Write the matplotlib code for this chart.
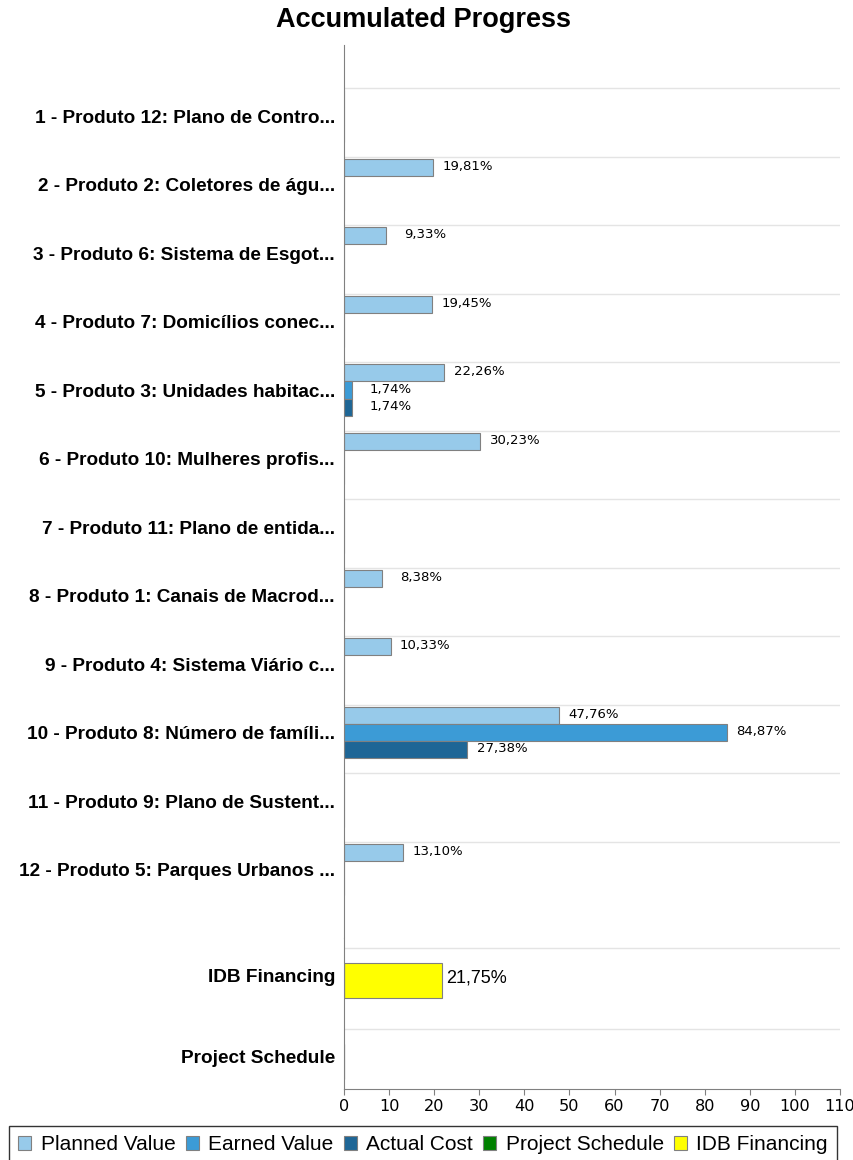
import numpy as np
import matplotlib
matplotlib.use("Agg")
import matplotlib.pyplot as plt
from matplotlib.patches import Patch

products = ["1 - Produto 12: Plano de Contro...",
            "2 - Produto 2: Coletores de águ...",
            "3 - Produto 6: Sistema de Esgot...",
            "4 - Produto 7: Domicílios conec...",
            "5 - Produto 3: Unidades habitac...",
            "6 - Produto 10: Mulheres profis...",
            "7 - Produto 11: Plano de entida...",
            "8 - Produto 1: Canais de Macrod...",
            "9 - Produto 4: Sistema Viário c...",
            "10 - Produto 8: Número de famíli...",
            "11 - Produto 9: Plano de Sustent...",
            "12 - Produto 5: Parques Urbanos ..."]
planned = [np.nan, 19.81, 9.33, 19.45, 22.26, 30.23, np.nan, 8.38, 10.33, 47.76, np.nan, 13.10]
earned = [np.nan, np.nan, np.nan, np.nan, 1.74, np.nan, np.nan, np.nan, np.nan, 84.87, np.nan, np.nan]
actual = [np.nan, np.nan, np.nan, np.nan, 1.74, np.nan, np.nan, np.nan, np.nan, 27.38, np.nan, np.nan]

summary = ["IDB Financing", "Project Schedule"]
idb = [21.75, np.nan]
schedule = [np.nan, np.nan]

c_planned = "#97caea"
c_earned = "#3c9bd6"
c_actual = "#1e6696"
c_sched = "#008000"
c_idb = "#ffff00"
edge = "#808080"
grid_c = "#e4e4e4"

W, H = 854, 1160
fig = plt.figure(figsize=(W / 100, H / 100), dpi=100)

def fx(px):
    return px / W

def fy(px):
    return 1 - px / H

x0, x1 = 344, 840
top_t, top_b, bot_b = 45, 938, 1089
ax1 = fig.add_axes([fx(x0), fy(top_b), fx(x1 - x0), (top_b - top_t) / H])
ax2 = fig.add_axes([fx(x0), fy(bot_b), fx(x1 - x0), (bot_b - top_b) / H], sharex=ax1)

lab_font = dict(family="Liberation Sans", weight="bold", size=13.7)

# --- top plot: products ---
pos = np.arange(1, len(products) + 1)
bh = 0.25
for vals, off, col in [(planned, -bh, c_planned), (earned, 0, c_earned), (actual, bh, c_actual)]:
    v = np.array(vals, dtype=float)
    ax1.barh(pos + off, np.nan_to_num(v), height=bh, color=col, edgecolor=edge, linewidth=0.8)
    for p, val in zip(pos, v):
        if np.isnan(val):
            continue
        txt = f"{val:.2f}%".replace(".", ",")
        ax1.annotate(txt, (val, p + off), xytext=(60, 1), textcoords="offset pixels",
                     ha="right", va="center", fontsize=9.5, family="DejaVu Sans")

ax1.hlines(pos - 0.4015, 0, 110, color=grid_c, lw=1, zorder=0)
ax1.set_ylim(13.0, -0.0365)
ax1.set_yticks(pos)
ax1.set_yticklabels(products, fontdict=lab_font)

# --- bottom plot: financing / schedule ---
pos2 = np.arange(len(summary))
ax2.barh(pos2 + 0.068, np.nan_to_num(np.array(idb, dtype=float)), height=0.432,
         color=c_idb, edgecolor=edge, linewidth=0.8)
ax2.barh(pos2 + 0.068, np.nan_to_num(np.array(schedule, dtype=float)), height=0.432,
         color=c_sched, edgecolor=edge, linewidth=0.8)
for p, val in zip(pos2, idb):
    if not np.isnan(val):
        ax2.annotate(f"{val:.2f}%".replace(".", ","), (val, p + 0.068), xytext=(4, 3),
                     textcoords="offset pixels", ha="left", va="center",
                     fontsize=13, family="Liberation Sans")
ax2.hlines(pos2 - 0.333, 0, 110, color=grid_c, lw=1, zorder=0)
ax2.set_ylim(1.407, -0.457)
ax2.set_yticks(pos2)
ax2.set_yticklabels(summary, fontdict=lab_font)

for ax in (ax1, ax2):
    ax.set_xlim(0, 110)
    for s in ("top", "right"):
        ax.spines[s].set_visible(False)
    ax.spines["left"].set_color(edge)
    ax.tick_params(axis="y", length=0, pad=6.5)
ax1.spines["bottom"].set_visible(False)
ax1.tick_params(axis="x", bottom=False, labelbottom=False)
ax2.spines["bottom"].set_color(edge)
ax2.set_xticks(np.arange(0, 111, 10))
ax2.tick_params(axis="x", length=4, color=edge, pad=3, labelsize=11.6)
for t in ax2.get_xticklabels():
    t.set_family("DejaVu Sans")

fig.text(fx(424), fy(20), "Accumulated Progress", ha="center", va="center",
         family="Liberation Sans", weight="bold", fontsize=19.5)

handles = [Patch(facecolor=c, edgecolor=edge, linewidth=0.8) for c in
           (c_planned, c_earned, c_actual, c_sched, c_idb)]
names = ["Planned Value", "Earned Value", "Actual Cost", "Project Schedule", "IDB Financing"]
leg = fig.legend(handles, names, ncol=5, loc="upper left", bbox_to_anchor=(fx(9), fy(1126)),
                 prop=dict(family="Liberation Sans", size=15), frameon=True, fancybox=False,
                 handlelength=0.62, handleheight=0.62, handletextpad=0.45, columnspacing=0.5,
                 borderpad=0.45, borderaxespad=0)
leg.get_frame().set_edgecolor("black")
leg.get_frame().set_linewidth(1)

fig.savefig("out.png", dpi=100)
